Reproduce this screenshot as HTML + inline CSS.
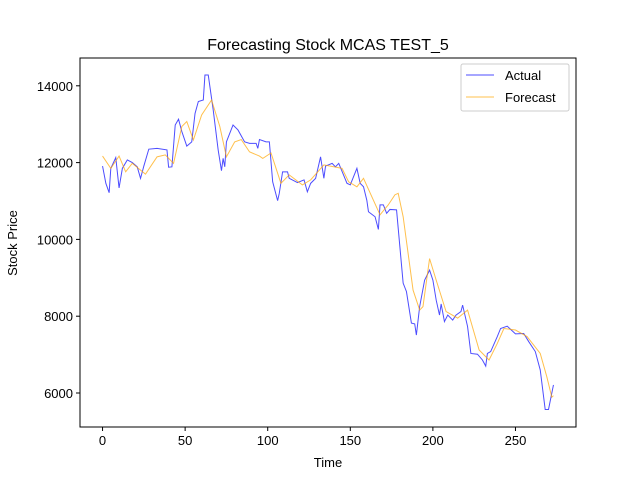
<!DOCTYPE html>
<html><head><meta charset="utf-8"><style>
body{margin:0;background:#fff}
svg{display:block;font-family:"Liberation Sans","DejaVu Sans",sans-serif}
</style></head><body>
<svg id="chart" width="640" height="480">
<rect width="640" height="480" fill="#fff"/>
<text x="328" y="50" text-anchor="middle" font-size="16">Forecasting Stock MCAS TEST_5</text>
<g id="plot"></g>
<rect x="80" y="58" width="496" height="369" fill="none" stroke="#000" stroke-width="1"/>
<text x="328" y="467" text-anchor="middle" font-size="13">Time</text>
<text transform="translate(17,243) rotate(-90)" text-anchor="middle" font-size="13">Stock Price</text>
<g>
<rect x="461" y="64" width="108" height="47" fill="#fff" fill-opacity="0.8" stroke="#ccc" rx="2"/>
<line x1="466" y1="75" x2="494" y2="75" stroke="blue" stroke-opacity="0.7"/>
<text x="505" y="80" font-size="13">Actual</text>
<line x1="466" y1="97" x2="494" y2="97" stroke="orange" stroke-opacity="0.7"/>
<text x="505" y="102" font-size="13">Forecast</text>
</g>
</svg>
<script>
const actualIdx=[0,2,4,5,8,10,12,15,18,21,23,25,28,33,39,40,42,44,46,48,51,54,56,58,61,62,64,67,70,72,73,74,75,79,82,86,89,93,94,95,99,101,103,106,107,109,112,113,118,122,124,126,129,132,134,135,139,141,143,148,150,154,156,158,160,161,165,167,168,170,172,174,178,182,184,187,189,190,192,195,198,200,202,204,205,207,209,212,214,217,218,221,223,227,230,232,233,235,239,241,245,250,255,258,262,265,268,270,273];
const actualVal=[11910,11460,11216,11850,12130,11340,11850,12070,12000,11890,11590,11910,12350,12370,12330,11880,11890,12980,13130,12810,12430,12540,13280,13590,13630,14280,14280,13370,12330,11790,12110,11890,12540,12980,12850,12540,12500,12500,12370,12600,12540,12540,11500,11010,11200,11760,11760,11590,11480,11550,11240,11460,11590,12150,11590,11910,11980,11890,11980,11460,11420,11850,11460,11370,11020,10720,10590,10260,10900,10900,10680,10780,10770,8860,8640,7820,7800,7510,8250,8940,9200,8940,8420,8030,8320,7860,8030,7900,8030,8120,8290,7730,7030,7010,6860,6700,7030,7080,7470,7680,7740,7540,7550,7340,7080,6600,5570,5570,6210];
const fcIdx=[0,5,10,14,18,26,33,38,43,48,51,55,60,66,71,75,80,84,89,95,97,102,108,113,121,126,134,145,149,154,158,168,173,177,179,182,188,192,194,198,202,208,215,221,228,234,239,243,250,257,265,269,272,273];
const fcVal=[12170,11850,12170,11760,11980,11700,12150,12200,11980,12940,13070,12590,13240,13630,12940,12150,12540,12600,12280,12170,12110,12250,11460,11680,11420,11550,11940,11850,11500,11370,11590,10640,10900,11160,11200,10590,8680,8160,8250,9500,8940,8120,7950,8160,7120,6860,7290,7680,7640,7470,7030,6420,5890,5930];
const yTicks=[6000,8000,10000,12000,14000];
const xTicks=[0,50,100,150,200,250];

const NS='http://www.w3.org/2000/svg';
const L=80,R=576,T=58,B=427;
const n=273, pad=n*0.05;
const x=i=>L+(i+pad)/(n+2*pad)*(R-L);
const y=v=>393-(v-6000)*0.0384;
const g=document.getElementById('plot');
function mk(t,a){const e=document.createElementNS(NS,t);for(const k in a)e.setAttribute(k,a[k]);g.appendChild(e);return e;}
xTicks.forEach(t=>{
  const l=mk('line',{x1:x(t),x2:x(t),y1:B,y2:B+4,stroke:'#000'});
  
  
  const s=mk('text',{x:x(t),y:B+18,'text-anchor':'middle','font-size':13});
  s.textContent=t;
  
  
});
yTicks.forEach(t=>{
  const l=mk('line',{x1:L-4,x2:L,y1:y(t),y2:y(t),stroke:'#000'});
  
  
  const s=mk('text',{x:L-7,y:y(t)+5,'text-anchor':'end','font-size':13});
  s.textContent=t;
  
  
});
const pa=mk('polyline',{points:actualIdx.map((i,k)=>x(i)+','+y(actualVal[k])).join(' '),fill:'none',stroke:'blue','stroke-opacity':0.7,'stroke-width':1});


const pf=mk('polyline',{points:fcIdx.map((i,k)=>x(i)+','+y(fcVal[k])).join(' '),fill:'none',stroke:'orange','stroke-opacity':0.7,'stroke-width':1});


</script>
</body></html>
